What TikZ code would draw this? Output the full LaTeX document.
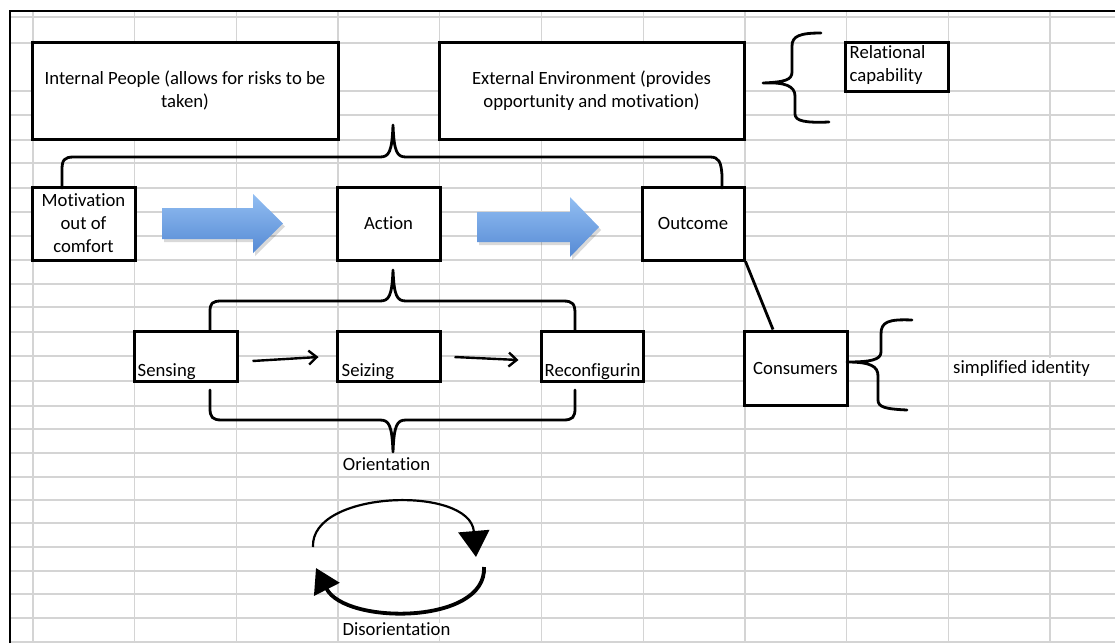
\documentclass[tikz,border=0pt]{standalone}
\usepackage{fontspec}
\setmainfont{Carlito}[Ligatures=NoCommon]
\usetikzlibrary{arrows.meta,calc}
\definecolor{gridc}{RGB}{212,212,212}
\definecolor{blueT}{RGB}{146,190,242}
\definecolor{blueB}{RGB}{86,138,212}
\newcommand\myfs{\fontsize{18.7}{23}\selectfont}
\tikzset{
  box/.style={draw, line width=3pt, fill=white, inner sep=0pt, font=\myfs, align=center},
  txt/.style={inner sep=0pt, font=\myfs, align=left},
  brace/.style={line width=2.8pt, line cap=round, line join=round},
  gridline/.style={draw=gridc, line width=1.3pt},
  smallarrow/.style={line width=2.4pt, -{Straight Barb[length=8pt,width=14pt,line width=2.4pt]}},
  blockarrow/.style={top color=blueT, bottom color=blueB},
  blockshadow/.style={fill=black, opacity=0.15},
}
\begin{document}
\begin{tikzpicture}[x=1pt,y=-1pt]
\useasboundingbox (0,0) rectangle (1115,643);
% grid
\foreach \x in {33,134.7,236.4,338.1,439.8,541.5,643.2,744.9,846.6,948.3,1050}
  \draw[gridline] (\x,11) -- (\x,643);
\foreach \y in {17,43,91,115,140,163,188,212,236,260,284,307,332,356,381,406,429,453,477,500,523,547,571,594,618,642}
  \draw[gridline] (10,\y) -- (1115,\y);
\draw[line width=2pt] (10,643) -- (10,11) -- (1115,11);

% boxes
\node[box, minimum width=306pt, minimum height=97pt] (int) at (185,90.5) {Internal People (allows for risks to be\\taken)};
\node[box, minimum width=305pt, minimum height=97pt] (ext) at (591.5,90.5) {External Environment (provides\\opportunity and motivation)};
\node[box, minimum width=103pt, minimum height=49pt] (rel) at (896.5,66.5) {};
\node[txt, anchor=north west] (reltxt) at ($(rel.north west)+(6,5)$) {Relational\\capability};
\node[box, minimum width=103pt, minimum height=73pt] (mot) at (83.5,223.5) {Motivation\\out of\\comfort};
\node[box, minimum width=103pt, minimum height=73pt] (act) at (388.5,223.5) {Action};
\node[box, minimum width=102pt, minimum height=73pt] (out) at (693,223.5) {Outcome};
\node[box, minimum width=103pt, minimum height=50pt] (sen) at (185.5,356) {};
\node[txt, anchor=base west] (sentxt) at ($(sen.south west)+(5,-6)$) {Sensing};
\node[box, minimum width=103pt, minimum height=50pt] (sei) at (388.5,356) {};
\node[txt, anchor=base west] (seitxt) at ($(sei.south west)+(6,-6)$) {Seizing};
\node[box, minimum width=102pt, minimum height=50pt] (rec) at (592,356) {};
\node[txt, anchor=base west] (rectxt) at ($(rec.south west)+(5,-6)$) {Reconfigurin};
\node[box, minimum width=103pt, minimum height=74pt] (con) at (795.5,368) {Consumers};

\node[txt, anchor=west, fill=white, minimum height=22pt, inner xsep=3pt] (simp) at (950,368.5) {simplified identity};
\node[txt] (ori) at (386.5,464) {Orientation};
\node[txt, fill=white, inner xsep=2pt] (dis) at (396.5,629) {Disorientation};

% block arrows
\fill[blockshadow] (164,211) -- (255,211) -- (255,197) -- (285,226.5) -- (255,256) -- (255,242) -- (164,242) -- cycle;
\shade[blockarrow] (162,208) -- (253,208) -- (253,194) -- (283,223.5) -- (253,253) -- (253,239) -- (162,239) -- cycle;
\fill[blockshadow] (479,215) -- (572,215) -- (572,200) -- (601,230) -- (572,260) -- (572,245) -- (479,245) -- cycle;
\shade[blockarrow] (477,212) -- (570,212) -- (570,197) -- (599,227) -- (570,257) -- (570,242) -- (477,242) -- cycle;

% small arrows
\draw[smallarrow] ($(sen.east)+(14,5)$) -- ($(sei.west)+(-17,1)$);
\draw[smallarrow] ($(sei.east)+(13,1)$) -- ($(rec.west)+(-21,4)$);

% outcome to consumers
\draw[line width=2.8pt] (out.south east) -- ($(con.north)+(-22.5,0)$);

% top big brace
\draw[brace] (62,188) -- (62,170) .. controls (62,160) and (64,157) .. (74,157) -- (380,157) .. controls (389,157) and (392,152) .. (393,125) .. controls (394,152) and (397,157) .. (406,157) -- (710,157) .. controls (719,157) and (721,162) .. (722,175) -- (722,188);
% brace under action
\draw[brace] (210,331) -- (210,312) .. controls (210,303) and (212,301) .. (222,301) -- (380,301) .. controls (389,301) and (392,296) .. (393,270) .. controls (394,296) and (397,301) .. (406,301) -- (563,301) .. controls (573,301) and (575,304) .. (575,314) -- (575,331);
% lower brace
\draw[brace] (210,390) -- (210,408) .. controls (210,417) and (212,420) .. (222,420) -- (380,420) .. controls (389,420) and (392,425) .. (393,452) .. controls (394,425) and (397,420) .. (406,420) -- (563,420) .. controls (573,420) and (575,417) .. (575,408) -- (575,390);
% relational brace
\draw[brace] (821,33) .. controls (800,33) and (792,36) .. (792,46) -- (792,72) .. controls (792,80) and (785,82) .. (763,83) .. controls (785,82) and (795,86) .. (795,96) -- (795,114) .. controls (795,121) and (805,123) .. (829,122);
% consumers brace
\draw[brace] (912,320) .. controls (888,319) and (881,322) .. (881,334) -- (881,352) .. controls (881,360) and (870,362) .. (847,362) .. controls (870,362) and (878,366) .. (878,376) -- (878,400) .. controls (878,407) and (885,409) .. (907,410);

% cycle arrows
\draw[line width=2.2pt, -{Triangle[length=26pt,width=31pt]}] (313,547) .. controls (310,490) and (470,485) .. (476,557);
\draw[line width=3.8pt, -{Triangle[length=24pt,width=28pt]}] (484,567) .. controls (487,625) and (345,625) .. (316,568);
\end{tikzpicture}
\end{document}
